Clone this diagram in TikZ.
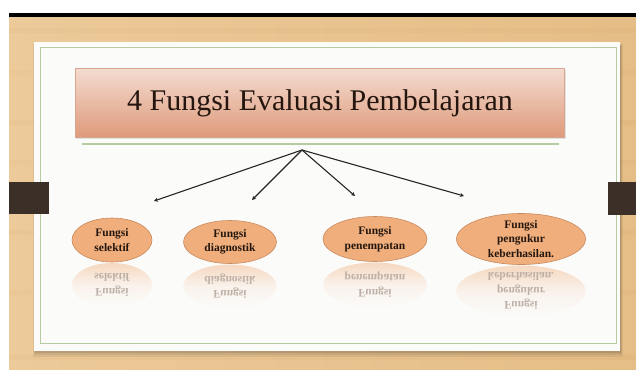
\documentclass[tikz,border=0pt]{standalone}
\usepackage{fontspec}
\setmainfont{Liberation Serif}
\usetikzlibrary{arrows.meta,shapes.geometric}
\definecolor{woodA}{HTML}{ECCA99}
\definecolor{woodB}{HTML}{E5BD86}
\definecolor{tabc}{HTML}{3B2F27}
\definecolor{panel}{HTML}{FBFBFA}
\definecolor{greenl}{HTML}{B7CAA2}
\definecolor{titletop}{HTML}{F4DCD1}
\definecolor{titlebot}{HTML}{DE9A7B}
\definecolor{titlebd}{HTML}{D6A690}
\definecolor{ellfill}{HTML}{EFAE7B}
\definecolor{ellbd}{HTML}{C98A5E}
\definecolor{txt}{HTML}{24160E}
\definecolor{refl}{HTML}{BDB0A6}
\tikzset{
  fell/.style={ellipse, draw=ellbd, line width=0.6pt, fill=ellfill, inner sep=0pt},
  rell/.style={ellipse, inner sep=0pt, top color=ellfill!45!panel, bottom color=panel, middle color=ellfill!12!panel},
  ftext/.style={font=\bfseries\fontsize{11.5}{14.5}\selectfont, text=txt, align=center, inner sep=0pt},
  rtext/.style={font=\bfseries\fontsize{11.5}{14.5}\selectfont, text=refl, align=center, inner sep=0pt, transform shape},
  conn/.style={draw=black!85, line width=1.1pt, -{Stealth[length=4pt,width=4pt]}}
}
\newcommand\myell[6]{%
  % #1 name, #2 x, #3 y, #4 w, #5 h, #6 text
  \node[rell, minimum width=#4pt, minimum height=#5pt] (#1r) at (#2,#3+#5+1) {};
  \node[fell, minimum width=#4pt, minimum height=#5pt] (#1) at (#2,#3) {};
  \node[ftext] (#1t) at (#1.center) {#6};
  \begin{scope}[shift={(#2,#3+#5/2+0.5)}, yscale=-1]
    \node[rtext] (#1rt) at (0,-#5/2-0.5) {#6};
  \end{scope}
}
\begin{document}
\begin{tikzpicture}[x=1pt,y=-1pt]
\useasboundingbox (0,0) rectangle (636,369);
\fill[white] (0,0) rectangle (636,369);
\shade[left color=woodA, right color=woodB] (9,17) rectangle (636,369);
\foreach \yy/\op in {28/0.05,70/0.04,120/0.05,160/0.04,230/0.05,290/0.04,355/0.05} {
  \fill[brown, opacity=\op] (9,\yy) rectangle (636,\yy+5);
}
\fill[black] (9,13) rectangle (636,17);
% panel shadow
\fill[black, opacity=0.06] (33,44) rectangle (623,357);
\fill[black, opacity=0.08] (34,45) rectangle (622,355);
\fill[black, opacity=0.10] (35,46) rectangle (621,353);
% panel
\fill[panel] (34,42) rectangle (620,351);
\draw[greenl, line width=1pt] (40,48) rectangle (616,343);
% tabs
\fill[tabc] (9,182) rectangle (49,214);
\fill[tabc] (608,182) rectangle (636,215);
% title
\fill[black, opacity=0.10] (76,70) rectangle (566,139);
\node[rectangle, draw=titlebd, line width=0.5pt, top color=titletop, bottom color=titlebot,
      minimum width=489pt, minimum height=69pt, inner sep=0pt] (title) at (319.5,102.5) {};
\node[font=\fontsize{30}{35}\selectfont, text=txt, inner sep=0pt] (titlet) at (320,103) {4 Fungsi Evaluasi Pembelajaran};
\draw[greenl, line width=1.4pt] (82,144) -- (559,144);
% ellipses
\myell{e1}{112}{240}{80}{44}{Fungsi\\selektif}
\myell{e2}{230}{242}{93}{43}{Fungsi\\diagnostik}
\myell{e3}{375}{239}{104}{45}{Fungsi\\penempatan}
\myell{e4}{521}{239}{129}{51}{Fungsi\\pengukur\\keberhasilan.}
% connectors
\coordinate (apex) at (302,150);
\coordinate (a1) at (154,201);
\coordinate (a2) at (252,200);
\coordinate (a3) at (355,196);
\coordinate (a4) at (464,196);
\draw[conn] (apex) -- (a1);
\draw[conn] (apex) -- (a2);
\draw[conn] (apex) -- (a3);
\draw[conn] (apex) -- (a4);
\end{tikzpicture}
\end{document}
